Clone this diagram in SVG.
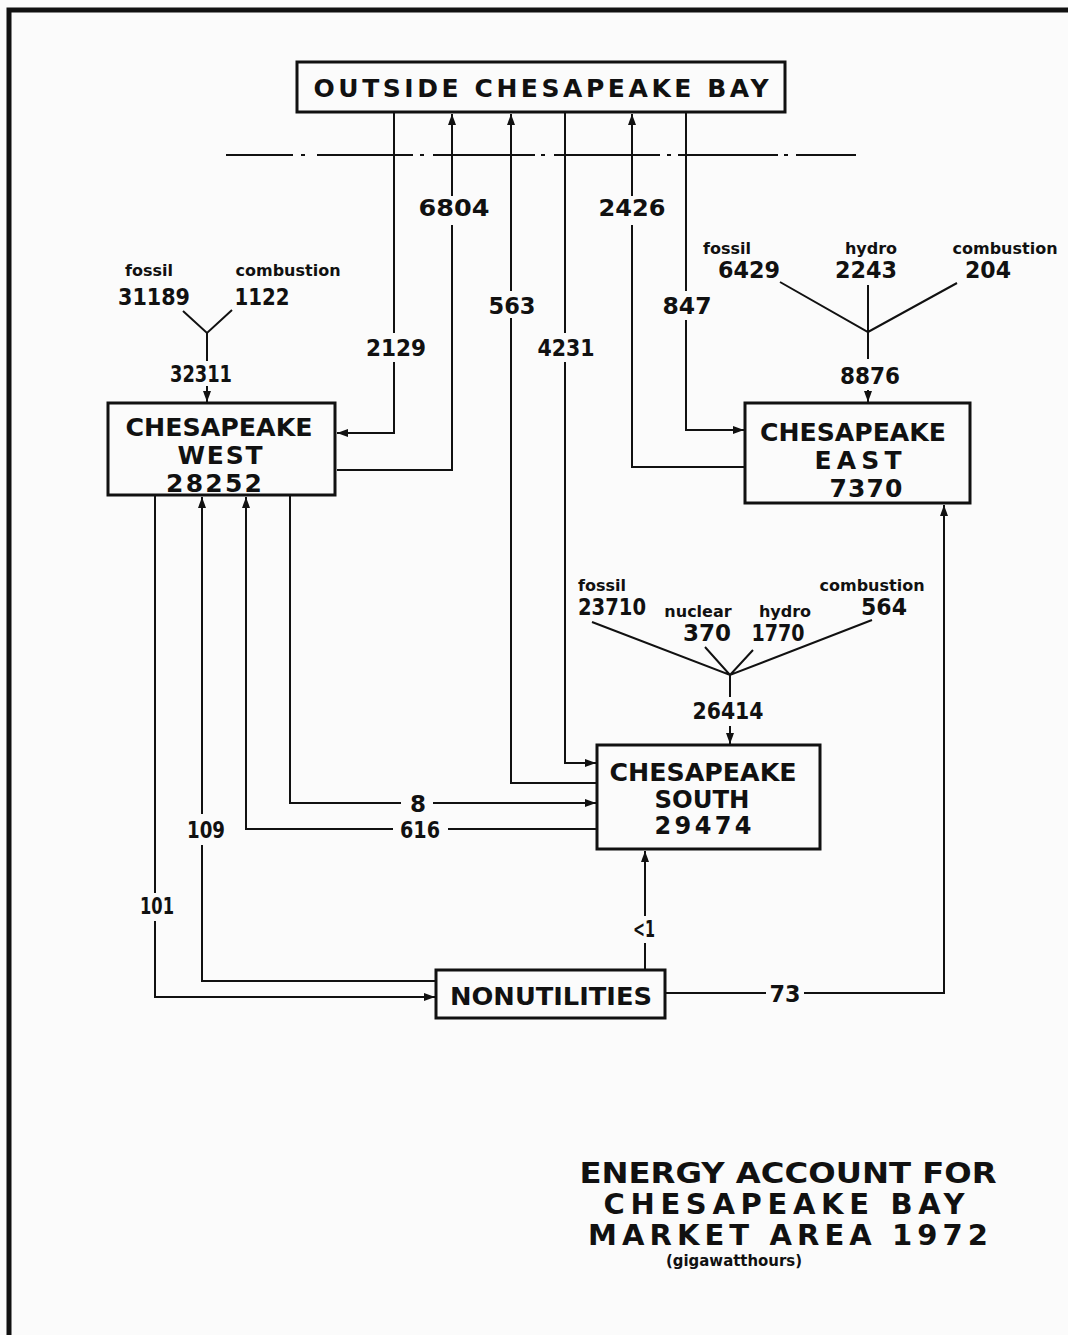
<svg xmlns="http://www.w3.org/2000/svg" width="1068" height="1335" viewBox="0 0 1068 1335">
<defs>
<style>
.bx{fill:none;stroke:#111;stroke-width:3}
.ln{fill:none;stroke:#111;stroke-width:2}
.t{font-family:"DejaVu Sans","Liberation Sans",Arial,sans-serif;font-weight:bold;fill:#111;text-anchor:middle}
.big{font-size:25px}
.sm{font-size:24px}
.num{font-size:23px}
.src{font-size:16px}
.ttl{font-size:29px}
</style>
<marker id="ah" viewBox="0 0 11 8" refX="11" refY="4" markerWidth="11" markerHeight="8" markerUnits="userSpaceOnUse" orient="auto">
<path d="M0,0 L11,4 L0,8 Z" fill="#111"/>
</marker>
</defs>
<rect width="1068" height="1335" fill="#fbfbfb"/>
<path d="M9,1335 V10 H1068" fill="none" stroke="#111" stroke-width="5"/>

<g id="outside">
<rect class="bx" x="297" y="62" width="488" height="50"/>
<text class="t big" x="541" y="97" textLength="455" lengthAdjust="spacing">OUTSIDE CHESAPEAKE BAY</text>
</g>

<g id="boundary">
<path class="ln" d="M226,155H293 M301,155H305 M317,155H413 M420,155H424 M433,155H535 M541,155H545 M554,155H660 M667,155H671 M678,155H778 M784,155H788 M796,155H856"/>
</g>

<g id="west">
<rect class="bx" x="108" y="403" width="227" height="92"/>
<text class="t big" x="219" y="436" textLength="187" lengthAdjust="spacingAndGlyphs">CHESAPEAKE</text>
<text class="t big" x="220" y="464" textLength="85" lengthAdjust="spacing">WEST</text>
<text class="t big" x="214" y="492" textLength="96" lengthAdjust="spacing">28252</text>
</g>

<g id="east">
<rect class="bx" x="745" y="403" width="225" height="100"/>
<text class="t big" x="853" y="441" textLength="186" lengthAdjust="spacingAndGlyphs">CHESAPEAKE</text>
<text class="t big" x="858" y="469" textLength="87" lengthAdjust="spacing">EAST</text>
<text class="t big" x="866" y="497" textLength="73" lengthAdjust="spacing">7370</text>
</g>

<g id="south">
<rect class="bx" x="597" y="745" width="223" height="104"/>
<text class="t sm" x="703" y="781" textLength="187" lengthAdjust="spacingAndGlyphs">CHESAPEAKE</text>
<text class="t sm" x="702" y="808" textLength="95" lengthAdjust="spacingAndGlyphs">SOUTH</text>
<text class="t sm" x="703" y="834" textLength="97" lengthAdjust="spacing">29474</text>
</g>

<g id="nonutilities">
<rect class="bx" x="436" y="970" width="229" height="48"/>
<text class="t big" x="551" y="1005" textLength="202" lengthAdjust="spacingAndGlyphs">NONUTILITIES</text>
</g>

<g id="west-sources">
<text class="t src" x="149" y="276">fossil</text>
<text class="t num" x="154" y="305" textLength="72" lengthAdjust="spacingAndGlyphs">31189</text>
<text class="t src" x="288" y="276">combustion</text>
<text class="t num" x="262" y="305" textLength="55" lengthAdjust="spacingAndGlyphs">1122</text>
</g>

<g id="east-sources">
<text class="t src" x="727" y="254">fossil</text>
<text class="t num" x="749" y="278" textLength="62" lengthAdjust="spacingAndGlyphs">6429</text>
<text class="t src" x="871" y="254">hydro</text>
<text class="t num" x="866" y="278" textLength="62" lengthAdjust="spacingAndGlyphs">2243</text>
<text class="t src" x="1005" y="254">combustion</text>
<text class="t num" x="988" y="278" textLength="46" lengthAdjust="spacingAndGlyphs">204</text>
</g>

<g id="south-sources">
<text class="t src" x="602" y="591">fossil</text>
<text class="t num" x="612" y="615" textLength="68" lengthAdjust="spacingAndGlyphs">23710</text>
<text class="t src" x="698" y="617">nuclear</text>
<text class="t num" x="707" y="641" textLength="48" lengthAdjust="spacingAndGlyphs">370</text>
<text class="t src" x="785" y="617">hydro</text>
<text class="t num" x="778" y="641" textLength="53" lengthAdjust="spacingAndGlyphs">1770</text>
<text class="t src" x="872" y="591">combustion</text>
<text class="t num" x="884" y="615" textLength="46" lengthAdjust="spacingAndGlyphs">564</text>
</g>

<g id="connectors">
<!-- 2129 outside to west -->
<path class="ln" d="M394,113 V333 M394,362 V433 H337" marker-end="url(#ah)"/>
<!-- 6804 west to outside -->
<path class="ln" d="M337,470 H452 V225 M452,196 V114" marker-end="url(#ah)"/>
<!-- 563 south to outside -->
<path class="ln" d="M597,783 H511 V318 M511,291 V114" marker-end="url(#ah)"/>
<!-- 4231 outside to south -->
<path class="ln" d="M565,113 V333 M565,362 V763 H596" marker-end="url(#ah)"/>
<!-- 2426 east to outside -->
<path class="ln" d="M745,467 H632 V225 M632,196 V114" marker-end="url(#ah)"/>
<!-- 847 outside to east -->
<path class="ln" d="M686,113 V291 M686,320 V430 H744" marker-end="url(#ah)"/>
<!-- west sources -->
<path class="ln" d="M183,311 L207,333 L232,310 M207,333 V361"/>
<path class="ln" d="M207,386 V402" marker-end="url(#ah)"/>
<!-- east sources -->
<path class="ln" d="M780,282 L868,332 L957,283 M868,285 V359"/>
<path class="ln" d="M868,390 V402" marker-end="url(#ah)"/>
<!-- south sources -->
<path class="ln" d="M592,622 L730,675 L872,620 M705,647 L730,675 L753,650 M730,675 V697"/>
<path class="ln" d="M730,726 V744" marker-end="url(#ah)"/>
<!-- 101 west to nonutilities -->
<path class="ln" d="M155,495 V893 M155,921 V997 H435" marker-end="url(#ah)"/>
<!-- 109 nonutilities to west -->
<path class="ln" d="M436,981 H202 V845 M202,814 V497" marker-end="url(#ah)"/>
<!-- 616 south to west -->
<path class="ln" d="M597,829 H448 M393,829 H246 V497" marker-end="url(#ah)"/>
<!-- 8 west to south -->
<path class="ln" d="M290,495 V803 H401 M433,803 H596" marker-end="url(#ah)"/>
<!-- <1 nonutilities to south -->
<path class="ln" d="M645,970 V943 M645,916 V851" marker-end="url(#ah)"/>
<!-- 73 nonutilities to east -->
<path class="ln" d="M665,993 H766 M804,993 H944 V505" marker-end="url(#ah)"/>
</g>

<g id="flow-labels">
<text class="t num" x="396" y="356" textLength="60" lengthAdjust="spacingAndGlyphs">2129</text>
<text class="t num" x="454" y="216" textLength="71" lengthAdjust="spacingAndGlyphs">6804</text>
<text class="t num" x="512" y="314" textLength="47" lengthAdjust="spacingAndGlyphs">563</text>
<text class="t num" x="566" y="356" textLength="57" lengthAdjust="spacingAndGlyphs">4231</text>
<text class="t num" x="632" y="216" textLength="67" lengthAdjust="spacingAndGlyphs">2426</text>
<text class="t num" x="687" y="314" textLength="49" lengthAdjust="spacingAndGlyphs">847</text>
<text class="t num" x="201" y="382" textLength="62" lengthAdjust="spacingAndGlyphs">32311</text>
<text class="t num" x="870" y="384" textLength="60" lengthAdjust="spacingAndGlyphs">8876</text>
<text class="t num" x="728" y="719" textLength="71" lengthAdjust="spacingAndGlyphs">26414</text>
<text class="t num" x="418" y="812">8</text>
<text class="t num" x="420" y="838" textLength="40" lengthAdjust="spacingAndGlyphs">616</text>
<text class="t num" x="206" y="838" textLength="38" lengthAdjust="spacingAndGlyphs">109</text>
<text class="t num" x="157" y="914" textLength="34" lengthAdjust="spacingAndGlyphs">101</text>
<text class="t num" x="644" y="937" textLength="22" lengthAdjust="spacingAndGlyphs">&lt;1</text>
<text class="t num" x="785" y="1002" textLength="31" lengthAdjust="spacingAndGlyphs">73</text>
</g>

<g id="title">
<text class="t ttl" x="788" y="1183" textLength="417" lengthAdjust="spacingAndGlyphs">ENERGY ACCOUNT FOR</text>
<text class="t ttl" x="784" y="1214" textLength="361" lengthAdjust="spacing">CHESAPEAKE BAY</text>
<text class="t ttl" x="788" y="1245" textLength="400" lengthAdjust="spacing">MARKET AREA 1972</text>
<text class="t src" x="734" y="1266" textLength="136" lengthAdjust="spacingAndGlyphs">(gigawatthours)</text>
</g>
</svg>
